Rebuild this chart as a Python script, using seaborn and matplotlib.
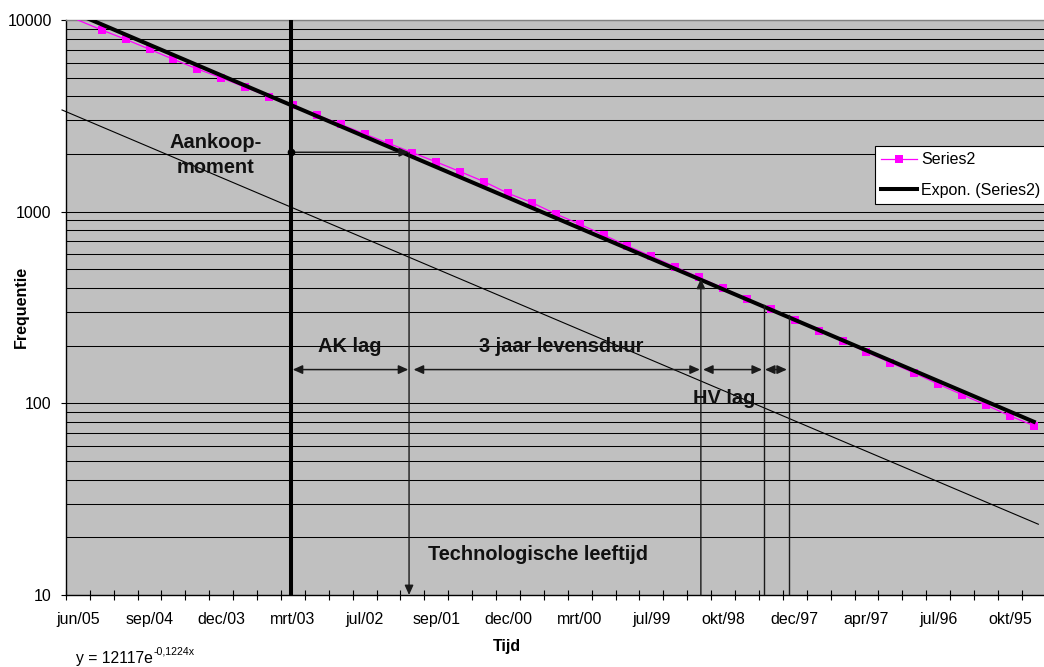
import numpy as np
import pandas as pd
import matplotlib
matplotlib.use("Agg")
import matplotlib.pyplot as plt
import seaborn as sns
from matplotlib.lines import Line2D
from matplotlib.ticker import FixedLocator, NullFormatter, LogLocator

# ---------------- data ----------------
frequentie = [10000, 8867, 7932, 7036, 6237, 5552, 5000, 4456, 3980, 3581,
              3195, 2857, 2543, 2274, 2032, 1817, 1617, 1434, 1247, 1114,
              973, 860, 756, 662, 585, 515, 454, 399, 350, 310,
              272, 239, 212, 185, 163, 144, 126, 111, 98, 86, 76.5]
tick_labels = ["jun/05", "sep/04", "dec/03", "mrt/03", "jul/02", "sep/01", "dec/00",
               "mrt/00", "jul/99", "okt/98", "dec/97", "apr/97", "jul/96", "okt/95"]
trend_a = 12117.0
trend_b = -0.1224

# annotation anchors (category position, frequency)
aankoop_x = 8.92
ak_end_x = 13.86
levensduur_end_x = 26.07
hv_end_x = 28.70
extra_end_x = 29.74
aankoop_freq = 2041
levensduur_top = 446
hv_top = 326
extra_top = 289
arrow_row_freq = 150
thin_line_x = [-0.66, 40.19]
thin_line_y = [3393, 23.4]

# ---------------- figure ----------------
W, H = 1044, 667
plt.rcParams['font.family'] = ['Liberation Sans', 'DejaVu Sans']
fig = plt.figure(figsize=(W / 100, H / 100), dpi=100)
fig.patch.set_facecolor('white')

def fx(px):
    return px / W

def fy(py):
    return 1 - py / H

ax_left, ax_right, ax_top, ax_bottom = 65.85, 65.85 + 41 * 23.9, 20, 595
ax = fig.add_axes([fx(ax_left), fy(ax_bottom), (ax_right - ax_left) / W, (ax_bottom - ax_top) / H])
ax.set_facecolor('#C0C0C0')

n = len(frequentie)
idx = np.arange(n)
df = pd.DataFrame({'idx': idx, 'freq': frequentie})
trend_df = pd.DataFrame({'idx': idx, 'trend': trend_a * np.exp(trend_b * (idx + 1))})

ax.set_yscale('log')

sns.lineplot(data=df, x='idx', y='freq', ax=ax, color='#FF00FF', lw=0.9,
             marker='s', markersize=6.3, markeredgewidth=0, markeredgecolor='#FF00FF',
             markevery=list(range(1, n)), legend=False, zorder=3)
sns.lineplot(data=trend_df, x='idx', y='trend', ax=ax, color='black', lw=2.9,
             legend=False, zorder=4)

ax.set_xlim(-0.5, n - 0.5)
ax.set_ylim(10, 10000)

# gridlines
ax.yaxis.set_major_locator(FixedLocator([10, 100, 1000, 10000]))
ax.yaxis.set_minor_locator(LogLocator(base=10, subs=np.arange(2, 10)))
ax.yaxis.set_minor_formatter(NullFormatter())
ax.set_yticklabels(["10", "100", "1000", "10000"])
ax.yaxis.grid(True, which='both', color='#000000', lw=0.75)
ax.xaxis.grid(False)
ax.set_axisbelow(True)

# x ticks: marks at category boundaries, labels every third category
ax.set_xticks(np.arange(-0.5, n, 1.0))
ax.set_xticklabels([])
ax.set_xticks(np.arange(0, n, 3), minor=True)
ax.set_xticklabels(tick_labels, minor=True)
ax.tick_params(axis='x', which='major', direction='inout', length=6.5, width=0.8, color='black')
ax.tick_params(axis='x', which='minor', length=0, pad=12.5, labelsize=11.5)
ax.tick_params(axis='y', which='major', direction='out', length=3.6, width=0.8, pad=6.6, labelsize=11.5)
ax.tick_params(axis='y', which='minor', length=0)
ax.set_xlabel('')
ax.set_ylabel('')

for s in ['left', 'bottom']:
    ax.spines[s].set_color('black')
    ax.spines[s].set_linewidth(1.0)
for s in ['top', 'right']:
    ax.spines[s].set_color('#808080')
    ax.spines[s].set_linewidth(1.0)

# ---------------- annotations ----------------
line_col = '#1a1a1a'
ax.plot([aankoop_x, aankoop_x], [10, 10000], color='black', lw=2.9, solid_capstyle='butt', zorder=6)
ax.plot([aankoop_x], [aankoop_freq], 'o', color='black', ms=4.5, zorder=7)

head = '-|>,head_length=0.4,head_width=0.18'
dhead = '<|-|>,head_length=0.4,head_width=0.18'
ax.annotate('', xy=(ak_end_x, aankoop_freq), xytext=(aankoop_x, aankoop_freq),
            arrowprops=dict(arrowstyle=head, color=line_col, lw=1.1, mutation_scale=14.5,
                            shrinkA=0, shrinkB=0), zorder=6)
ax.annotate('', xy=(ak_end_x, 10), xytext=(ak_end_x, aankoop_freq),
            arrowprops=dict(arrowstyle=head, color=line_col, lw=1.0, mutation_scale=14.5,
                            shrinkA=0, shrinkB=0), zorder=6)
ax.annotate('', xy=(levensduur_end_x, levensduur_top), xytext=(levensduur_end_x, 10),
            arrowprops=dict(arrowstyle=head, color=line_col, lw=1.0, mutation_scale=14.5,
                            shrinkA=0, shrinkB=0), zorder=6)
ax.plot([hv_end_x, hv_end_x], [10, hv_top], color=line_col, lw=1.0, zorder=6)
ax.plot([extra_end_x, extra_end_x], [10, extra_top], color=line_col, lw=1.0, zorder=6)

for x0, x1 in [(aankoop_x + 0.07, ak_end_x - 0.03), (ak_end_x + 0.19, levensduur_end_x - 0.04),
               (levensduur_end_x + 0.09, hv_end_x - 0.07), (hv_end_x + 0.05, extra_end_x - 0.07)]:
    ax.annotate('', xy=(x1, arrow_row_freq), xytext=(x0, arrow_row_freq),
                arrowprops=dict(arrowstyle=dhead, color=line_col, lw=1.1, mutation_scale=14.5,
                                shrinkA=0, shrinkB=0), zorder=6)

ax.plot(thin_line_x, thin_line_y, color='black', lw=0.8, clip_on=False, zorder=5)

bold = dict(fontsize=14.4, fontweight='bold', color='#111111')
fig.text(fx(216), fy(147.7), "Aankoop-", ha='center', va='baseline', **bold)
fig.text(fx(216), fy(172.7), "moment", ha='center', va='baseline', **bold)
fig.text(fx(349.6), fy(351.8), "AK lag", ha='center', va='baseline', **bold)
fig.text(fx(561.5), fy(351.8), "3 jaar levensduur", ha='center', va='baseline', **bold)
fig.text(fx(724.3), fy(404), "HV lag", ha='center', va='baseline', **bold)
fig.text(fx(537.5), fy(559.5), "Technologische leeftijd", ha='center', va='baseline', **bold)

# axis titles
fig.text(fx(493.3), fy(651), "Tijd", ha='left', va='baseline', fontsize=11.5, fontweight='bold')
fig.text(fx(21), fy(307), "Frequentie", ha='center', va='center', rotation=90,
         fontsize=11.5, fontweight='bold')

# trendline equation
fig.text(fx(76), fy(663), "y = 12117e", ha='left', va='baseline', fontsize=11.3)
fig.text(fx(153.5), fy(655), "-0,1224x", ha='left', va='baseline', fontsize=7.7)

# legend
handles = [Line2D([], [], color='#FF00FF', lw=0.9, marker='s', markersize=6.3, markeredgewidth=0),
           Line2D([], [], color='black', lw=2.9)]
leg = ax.legend(handles, ["Series2", "Expon. (Series2)"], loc='upper left',
                bbox_to_anchor=(fx(875), fy(146)), bbox_transform=fig.transFigure,
                frameon=True, fancybox=False, edgecolor='black', framealpha=1,
                fontsize=11.5, handlelength=2.2, handletextpad=0.3, labelspacing=0.95,
                borderpad=0.4, borderaxespad=0)
leg.get_frame().set_linewidth(0.8)
leg.set_zorder(10)

fig.savefig('out.png', dpi=100)
